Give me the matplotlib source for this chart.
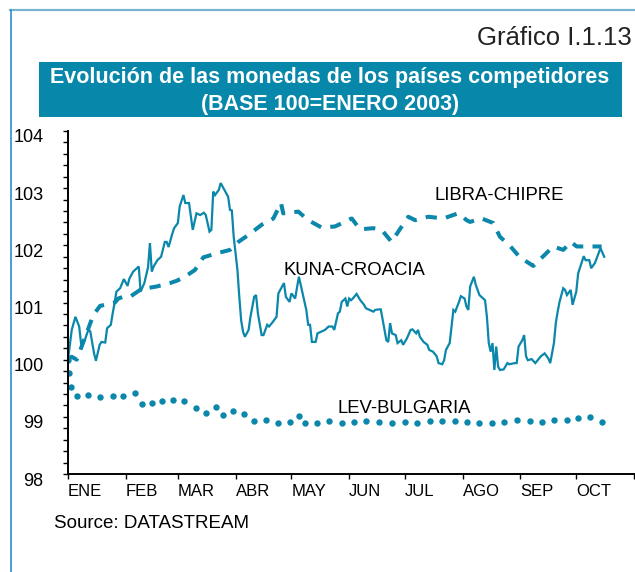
import matplotlib
matplotlib.use("Agg")
import matplotlib.pyplot as plt
import matplotlib.transforms as mtransforms
from matplotlib.lines import Line2D
from matplotlib.patches import Rectangle
from matplotlib.ticker import MultipleLocator

plt.rcParams['font.family'] = ['Liberation Sans', 'DejaVu Sans']

# ---------------- data (day of year 2003, index base 100 = Jan 2003) -------------
month_starts = [0, 31, 59, 90, 120, 151, 181, 212, 243, 273, 304]
month_labels = ["ENE", "FEB", "MAR", "ABR", "MAY", "JUN", "JUL", "AGO", "SEP", "OCT", ""]

kuna_days = [0, 2, 4, 6, 7, 9, 11, 12, 14, 15, 17, 18, 20, 21, 23, 24, 25, 26, 28, 30,
             32, 33, 35, 38, 39, 41, 43, 44, 45, 46, 48, 50, 52, 53, 54, 56, 57, 59, 60, 62,
             63, 65, 67, 69, 71, 73, 74, 76, 77, 78, 79, 81, 82, 84, 86, 87, 88, 89, 91, 92,
             93, 94, 95, 97, 98, 100, 101, 102, 104, 105, 107, 108, 110, 112, 113, 114, 116, 117, 119, 120,
             122, 124, 125, 126, 128, 129, 130, 131, 133, 134, 136, 138, 140, 142, 143, 145, 146, 147, 149, 150,
             151, 152, 153, 155, 157, 159, 160, 162, 164, 165, 167, 168, 170, 171, 172, 173, 174, 176, 177, 179,
             180, 182, 184, 185, 187, 188, 189, 191, 193, 194, 196, 198, 199, 201, 202, 203, 205, 207, 208, 210,
             211, 213, 214, 215, 216, 218, 219, 221, 222, 224, 225, 226, 227, 228, 229, 230, 231, 232, 234, 236,
             237, 240, 241, 242, 244, 245, 246, 247, 249, 251, 253, 254, 256, 258, 259, 261, 262, 263, 264, 266,
             267, 268, 270, 271, 273, 274, 277, 278, 280, 281, 283, 285, 286, 288]
kuna_vals = [100.0, 100.52, 100.75, 100.58, 100.29, 100.34, 100.53, 100.49, 100.11, 99.98,
             100.26, 100.31, 100.30, 100.55, 100.61, 100.81, 100.99, 101.19, 101.25, 101.41,
             101.29, 101.42, 101.54, 101.63, 101.19, 101.34, 101.62, 102.04, 101.54, 101.63,
             101.74, 101.80, 102.06, 102.06, 101.97, 102.20, 102.30, 102.39, 102.68, 102.88,
             102.74, 102.74, 102.27, 102.56, 102.53, 102.57, 102.53, 102.24, 102.27, 102.94,
             102.88, 102.97, 103.09, 102.97, 102.85, 102.62, 102.61, 102.15, 101.57, 101.10,
             100.69, 100.49, 100.40, 100.52, 100.75, 101.10, 101.13, 100.81, 100.43, 100.43,
             100.61, 100.58, 100.66, 100.75, 101.16, 101.22, 101.34, 101.10, 101.01, 101.16,
             101.07, 101.45, 101.31, 101.16, 100.87, 100.61, 100.61, 100.31, 100.31, 100.46,
             100.49, 100.52, 100.58, 100.58, 100.52, 100.81, 100.84, 101.01, 101.07, 100.93,
             101.07, 101.04, 101.07, 101.15, 101.04, 100.96, 100.90, 100.87, 100.84, 100.87,
             100.88, 100.88, 100.52, 100.34, 100.31, 100.64, 100.46, 100.43, 100.29, 100.34,
             100.26, 100.37, 100.52, 100.53, 100.46, 100.52, 100.40, 100.31, 100.26, 100.17,
             100.14, 100.06, 99.94, 99.92, 99.99, 100.17, 100.29, 100.87, 100.84, 101.01,
             101.11, 101.07, 100.93, 100.87, 101.28, 101.45, 101.31, 101.13, 101.10, 101.04,
             100.75, 100.29, 100.14, 100.29, 99.82, 100.23, 99.88, 99.82, 99.83, 99.94,
             99.92, 99.94, 99.94, 100.23, 100.34, 100.43, 100.06, 99.99, 100.01, 99.94,
             100.02, 100.06, 100.11, 100.02, 99.94, 100.29, 100.64, 100.84, 101.01, 101.25,
             101.22, 101.13, 101.22, 100.96, 101.19, 101.51, 101.81, 101.74, 101.74, 101.60,
             101.69, 101.86, 101.95, 101.80]

libra_days = [0, 2, 4.7, 13.6, 17.2, 25.2, 27, 29.7, 33.3, 38.7, 42.3, 47.6, 54.8, 58.4, 62.8,
              68.2, 72.7, 79.9, 87, 91.5, 97.7, 104, 110.3, 114.4, 115.6, 123.7, 129, 136.3,
              143.4, 152.4, 156.8, 164, 168.5, 173.8, 177.4, 182.8, 186.4, 193.5, 201.6, 209.6,
              214.1, 215.9, 222.2, 228.4, 232, 237.4, 242.7, 249.9, 255.3, 260.6, 266, 270.1,
              273.2, 278.6, 286.6]
libra_vals = [100.02, 100.05, 100.0, 100.78, 100.94, 101.0, 101.07, 101.10, 101.10, 101.22,
              101.25, 101.28, 101.34, 101.38, 101.45, 101.57, 101.79, 101.86, 101.92, 102.06,
              102.20, 102.36, 102.47, 102.74, 102.56, 102.59, 102.44, 102.31, 102.33, 102.47,
              102.28, 102.30, 102.27, 102.06, 102.24, 102.50, 102.44, 102.50, 102.47, 102.56,
              102.44, 102.41, 102.47, 102.39, 102.15, 101.99, 101.79, 101.64, 101.81, 101.98,
              101.92, 102.06, 101.98, 101.98, 101.98]

lev_days = [0, 0.7, 1.4, 4.7, 10.9, 17.2, 24, 29.7, 36, 39.6, 45, 50.7, 56.2, 62.5, 68.6,
            74.1, 79.5, 83.4, 88.8, 94.7, 99.9, 106.2, 112.6, 119.2, 124.1, 127.3, 133.6,
            140.1, 146.9, 153.5, 160.3, 167.3, 174.1, 180.8, 187.5, 194.2, 200.8, 207.7,
            214.4, 220.9, 228, 234.3, 241.1, 248.1, 254.7, 261.2, 267.8, 273.7, 280.3, 286.6]
lev_vals = [100.0, 99.76, 99.52, 99.37, 99.39, 99.34, 99.37, 99.36, 99.41, 99.22, 99.24,
            99.27, 99.30, 99.27, 99.16, 99.06, 99.17, 99.03, 99.10, 99.05, 98.92, 98.95,
            98.90, 98.91, 99.01, 98.90, 98.90, 98.93, 98.89, 98.91, 98.92, 98.91, 98.90,
            98.91, 98.89, 98.92, 98.93, 98.92, 98.91, 98.89, 98.90, 98.91, 98.94, 98.93,
            98.91, 98.94, 98.95, 98.98, 99.00, 98.91]

series_labels = ["LIBRA-CHIPRE", "KUNA-CROACIA", "LEV-BULGARIA"]
title_lines = ["Evolución de las monedas de los países competidores", "(BASE 100=ENERO 2003)"]
chart_id = "Gráfico I.1.13"
source = "Source: DATASTREAM"
y_ticks = [98, 99, 100, 101, 102, 103, 104]

# ---------------- figure ----------------
W, H = 635, 572
fig = plt.figure(figsize=(W / 100, H / 100), dpi=100)
color = "#0a87aa"

def fx(px):
    return px / W

def fy(py):
    return 1 - py / H

# frame lines
fig.add_artist(Line2D([fx(10), fx(635)], [fy(10), fy(10)], color="#78b6d0", lw=1.6))
fig.add_artist(Line2D([fx(10.5), fx(10.5)], [fy(10), fy(572)], color="#2a8fd0", lw=1.2))

# chart id
fig.text(fx(632), fy(45), chart_id, ha="right", va="baseline", fontsize=18.5, color="#222222")

# title box
fig.add_artist(Rectangle((fx(39), fy(117)), fx(622) - fx(39), fy(62) - fy(117),
                         facecolor="#0787aa", edgecolor="none", transform=fig.transFigure))
fig.text(fx(330), fy(83), title_lines[0], ha="center", va="baseline", fontsize=15.5,
         fontweight="bold", color="white")
fig.text(fx(330), fy(110), title_lines[1], ha="center", va="baseline", fontsize=15.5,
         fontweight="bold", color="white")

# axes
ax = fig.add_axes([fx(68), fy(474), fx(634) - fx(68), fy(131) - fy(474)])
ax.set_xlim(0, 304)
ax.set_ylim(98, 104)

ax.plot(kuna_days, kuna_vals, color=color, lw=1.6, solid_joinstyle="miter")
ax.plot(libra_days, libra_vals, color=color, lw=2.9, dashes=[2.8, 2.3])
ax.plot(lev_days, lev_vals, color=color, ls="none", marker="o", ms=4.6, mec="none")

for s in ["top", "right"]:
    ax.spines[s].set_visible(False)
for s in ["left", "bottom"]:
    ax.spines[s].set_linewidth(1.4)
    ax.spines[s].set_color("black")

ax.set_yticks(y_ticks)
ax.set_yticklabels([str(v) for v in y_ticks], fontsize=13)
ax.yaxis.set_minor_locator(MultipleLocator(0.2))
ax.tick_params(axis="y", which="both", length=3.5, width=1, direction="out", pad=14)
off = mtransforms.ScaledTranslation(0, -5 / 100, fig.dpi_scale_trans)
for lab in ax.get_yticklabels():
    lab.set_transform(lab.get_transform() + off)

ax.set_xticks(month_starts)
ax.set_xticklabels(month_labels, fontsize=12, ha="left")
ax.tick_params(axis="x", which="major", length=3.5, width=1, direction="out", pad=4)

# series labels
ax.text(197, 102.79, series_labels[0], fontsize=13.3, ha="left", va="baseline")
ax.text(115.5, 101.48, series_labels[1], fontsize=13.3, ha="left", va="baseline")
ax.text(144.5, 99.07, series_labels[2], fontsize=13.3, ha="left", va="baseline")

# source
fig.text(fx(54), fy(528), source, ha="left", va="baseline", fontsize=13.5)

fig.savefig("out.png", dpi=100)
